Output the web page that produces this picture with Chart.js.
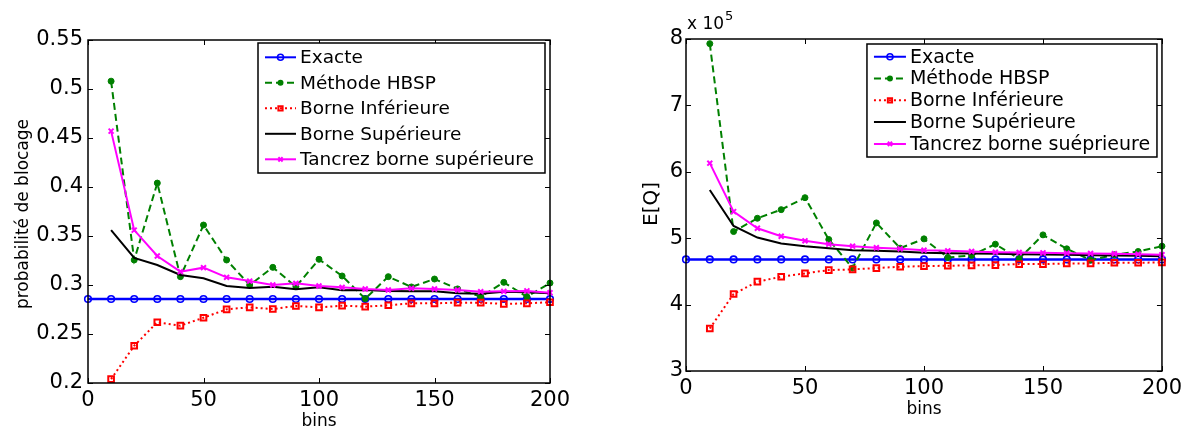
<!DOCTYPE html>
<html>
<head>
<meta charset="utf-8">
<title>Probabilité de blocage et E[Q] en fonction du nombre de bins</title>
<script src="https://cdn.jsdelivr.net/npm/chart.js@4.4.1/dist/chart.umd.min.js"></script>
<style>
  html, body { margin: 0; padding: 0; background: #ffffff; width: 1187px; height: 426px; overflow: hidden; }
  .panel { position: absolute; top: 0; height: 426px; }
  #panelBlocage { left: 0; width: 580px; }
  #panelEQ { left: 600px; width: 587px; }
</style>
</head>
<body>
<div class="panel" id="panelBlocage"><canvas id="chartBlocage"></canvas></div>
<div class="panel" id="panelEQ"><canvas id="chartEQ"></canvas></div>
<script>
// ---- data ----
const bins = [10, 20, 30, 40, 50, 60, 70, 80, 90, 100, 110, 120, 130, 140, 150, 160, 170, 180, 190, 200];
const binsExacte = [0, 10, 20, 30, 40, 50, 60, 70, 80, 90, 100, 110, 120, 130, 140, 150, 160, 170, 180, 190, 200];

const xTickValues = [0, 50, 100, 150, 200];
const yTickBlocage = [0.2, 0.25, 0.3, 0.35, 0.4, 0.45, 0.5, 0.55];
const yTickEQ = [3, 4, 5, 6, 7, 8];

const namesBlocage = ['Exacte', 'Méthode HBSP', 'Borne Inférieure', 'Borne Supérieure', 'Tancrez borne supérieure'];
const namesEQ = ['Exacte', 'Méthode HBSP', 'Borne Inférieure', 'Borne Supérieure', 'Tancrez borne suéprieure'];

// probabilité de blocage
const exacteBlocage = [0.2857, 0.2857, 0.2857, 0.2857, 0.2857, 0.2857, 0.2857, 0.2857, 0.2857, 0.2857, 0.2857,
                       0.2857, 0.2857, 0.2857, 0.2857, 0.2857, 0.2857, 0.2857, 0.2857, 0.2857, 0.2857];
const hbspBlocage = [0.508, 0.3255, 0.404, 0.3085, 0.3612, 0.3255, 0.300, 0.318, 0.2983, 0.3262,
                     0.3092, 0.286, 0.3085, 0.298, 0.3061, 0.296, 0.288, 0.3027, 0.288, 0.302];
const infBlocage = [0.204, 0.238, 0.262, 0.2585, 0.2666, 0.2752, 0.2772, 0.2755, 0.2786, 0.2772,
                    0.2789, 0.2779, 0.2793, 0.2813, 0.2813, 0.282, 0.282, 0.2806, 0.2813, 0.2824];
const supBlocage = [0.356, 0.3277, 0.3204, 0.3102, 0.3068, 0.299, 0.297, 0.2983, 0.2956, 0.2976,
                    0.2946, 0.295, 0.294, 0.2935, 0.2935, 0.2915, 0.291, 0.293, 0.2925, 0.2915];
const tancrezBlocage = [0.457, 0.356, 0.3296, 0.3136, 0.3177, 0.3078, 0.304, 0.300, 0.3017, 0.299,
                        0.2976, 0.2959, 0.2949, 0.2966, 0.2959, 0.2949, 0.2932, 0.2935, 0.294, 0.2922];

// E[Q], in units of 10^5
const EQ_EXPONENT = 5;
const exacteEQ = [4.68, 4.68, 4.68, 4.68, 4.68, 4.68, 4.68, 4.68, 4.68, 4.68, 4.68,
                  4.68, 4.68, 4.68, 4.68, 4.68, 4.68, 4.68, 4.68, 4.68, 4.68];
const hbspEQ = [7.93, 5.10, 5.30, 5.43, 5.61, 4.98, 4.55, 5.23, 4.85, 4.99,
                4.71, 4.74, 4.91, 4.69, 5.05, 4.84, 4.67, 4.75, 4.80, 4.88];
const infEQ = [3.64, 4.16, 4.345, 4.42, 4.47, 4.52, 4.53, 4.55, 4.57, 4.58,
               4.585, 4.59, 4.595, 4.61, 4.61, 4.62, 4.62, 4.63, 4.63, 4.635];
const supEQ = [5.727, 5.184, 5.01, 4.92, 4.88, 4.85, 4.82, 4.81, 4.80, 4.78,
               4.775, 4.77, 4.765, 4.76, 4.755, 4.75, 4.745, 4.74, 4.735, 4.73];
const tancrezEQ = [6.13, 5.40, 5.15, 5.03, 4.96, 4.91, 4.88, 4.857, 4.84, 4.82,
                   4.81, 4.80, 4.79, 4.785, 4.78, 4.775, 4.77, 4.765, 4.76, 4.75];

// ---- styles ----
const FONT = '"DejaVu Sans", "Liberation Sans", sans-serif';
const seriesStyles = [
  { color: '#0000ff', width: 2.5, dash: [],     marker: 'circle',   r: 3.3, mw: 1.6 },
  { color: '#008000', width: 2,   dash: [7, 4], marker: 'dot',      r: 3,   mw: 1 },
  { color: '#ff0000', width: 2,   dash: [2, 3], marker: 'rect',     r: 4,   mw: 2 },
  { color: '#000000', width: 2,   dash: [],     marker: null,       r: 0,   mw: 1 },
  { color: '#ff00ff', width: 2,   dash: [],     marker: 'crossRot', r: 3.5, mw: 2 }
];

function makeDataset(i, label, xs, ys) {
  const s = seriesStyles[i];
  return {
    label: label,
    data: xs.map((x, k) => ({ x: x, y: ys[k] })),
    borderColor: s.color,
    borderWidth: s.width,
    borderDash: s.dash,
    pointStyle: s.marker === 'dot' ? 'circle' : (s.marker || false),
    pointRadius: s.marker ? s.r : 0,
    pointHoverRadius: s.marker ? s.r : 0,
    pointBorderColor: s.color,
    pointBorderWidth: s.mw,
    pointBackgroundColor: s.marker === 'dot' ? s.color : 'rgba(0,0,0,0)',
    fill: false,
    tension: 0,
    clip: false,
    order: 10 - i
  };
}

// small marker painter for the legend samples
function paintMarker(ctx, s, x, y) {
  if (!s.marker) return;
  ctx.save();
  ctx.setLineDash([]);
  ctx.strokeStyle = s.color;
  ctx.fillStyle = s.color;
  ctx.lineWidth = s.mw;
  ctx.beginPath();
  if (s.marker === 'circle') {
    ctx.arc(x, y, s.r, 0, Math.PI * 2);
    ctx.stroke();
  } else if (s.marker === 'dot') {
    ctx.arc(x, y, s.r, 0, Math.PI * 2);
    ctx.fill();
  } else if (s.marker === 'rect') {
    const h = s.r * Math.SQRT1_2;
    ctx.rect(x - h, y - h, 2 * h, 2 * h);
    ctx.stroke();
  } else if (s.marker === 'crossRot') {
    const h = s.r * Math.SQRT1_2;
    ctx.moveTo(x - h, y - h); ctx.lineTo(x + h, y + h);
    ctx.moveTo(x + h, y - h); ctx.lineTo(x - h, y + h);
    ctx.stroke();
  }
  ctx.restore();
}

// boxed frame with inward ticks, legend box and axis titles
const matFrame = {
  id: 'matFrame',
  afterDatasetsDraw(chart, args, o) {
    const ctx = chart.ctx, ca = chart.chartArea;
    const xs = chart.scales.x, ys = chart.scales.y;
    ctx.save();
    ctx.setLineDash([]);
    ctx.strokeStyle = '#000';
    ctx.lineWidth = 1;
    ctx.beginPath();
    o.xTicks.forEach(v => {
      const px = Math.round(xs.getPixelForValue(v)) + 0.5;
      ctx.moveTo(px, ca.bottom); ctx.lineTo(px, ca.bottom - 5);
      ctx.moveTo(px, ca.top); ctx.lineTo(px, ca.top + 5);
    });
    o.yTicks.forEach(v => {
      const py = Math.round(ys.getPixelForValue(v)) + 0.5;
      ctx.moveTo(ca.left, py); ctx.lineTo(ca.left + 5, py);
      ctx.moveTo(ca.right, py); ctx.lineTo(ca.right - 5, py);
    });
    ctx.stroke();
    ctx.lineWidth = 1.5;
    ctx.strokeRect(ca.left, ca.top, ca.right - ca.left, ca.bottom - ca.top);
    ctx.restore();
  },
  afterDraw(chart, args, o) {
    const ctx = chart.ctx, ca = chart.chartArea;
    const lg = o.legend;
    ctx.save();
    // legend
    const bx = ca.right - lg.inset - lg.w, by = ca.top + lg.top;
    ctx.fillStyle = '#fff';
    ctx.fillRect(bx, by, lg.w, lg.h);
    ctx.strokeStyle = '#000';
    ctx.lineWidth = 1.5;
    ctx.strokeRect(bx, by, lg.w, lg.h);
    chart.data.datasets.forEach((ds, i) => {
      const s = seriesStyles[i];
      const y = by + lg.first + i * lg.step;
      const x0 = bx + lg.sx0, x1 = bx + lg.sx1;
      ctx.save();
      ctx.strokeStyle = s.color;
      ctx.lineWidth = Math.min(s.width, 2);
      ctx.setLineDash(s.dash);
      ctx.beginPath();
      ctx.moveTo(x0, y); ctx.lineTo(x1, y);
      ctx.stroke();
      ctx.restore();
      paintMarker(ctx, Object.assign({}, s, { r: Math.min(s.r, 3) }), (x0 + x1) / 2, y);
      ctx.fillStyle = '#000';
      ctx.font = lg.size + 'px ' + FONT;
      ctx.textAlign = 'left';
      ctx.textBaseline = 'middle';
      ctx.fillText(ds.label, bx + lg.tx, y + 1);
    });
    // x title
    ctx.fillStyle = '#000';
    ctx.font = o.xTitle.size + 'px ' + FONT;
    ctx.textAlign = 'center';
    ctx.textBaseline = 'alphabetic';
    ctx.fillText(o.xTitle.text, (ca.left + ca.right) / 2, ca.bottom + o.xTitle.dy);
    // y title
    ctx.save();
    ctx.translate(o.yTitle.x, o.yTitle.y);
    ctx.rotate(-Math.PI / 2);
    ctx.font = o.yTitle.size + 'px ' + FONT;
    ctx.textAlign = 'center';
    ctx.textBaseline = 'middle';
    ctx.fillText(o.yTitle.text, 0, 0);
    ctx.restore();
    // exponent
    if (o.exponent) {
      ctx.font = '17px ' + FONT;
      ctx.textAlign = 'left';
      ctx.textBaseline = 'alphabetic';
      const base = 'x 10';
      ctx.fillText(base, ca.left + 1, ca.top - 10);
      const w = ctx.measureText(base).width;
      ctx.font = '13px ' + FONT;
      ctx.fillText(String(o.exponent), ca.left + 2 + w, ca.top - 19);
    }
    ctx.restore();
  }
};

function makeChart(canvasId, cfg) {
  const tickFont = { family: FONT, size: 21 };
  return new Chart(document.getElementById(canvasId), {
    type: 'line',
    data: { datasets: cfg.datasets },
    plugins: [matFrame],
    options: {
      responsive: true,
      maintainAspectRatio: false,
      animation: false,
      devicePixelRatio: 1,
      layout: { padding: { top: cfg.padTop, right: cfg.padRight, left: 0, bottom: 0 } },
      plugins: {
        legend: { display: false },
        tooltip: { enabled: false },
        title: { display: false },
        matFrame: {
          xTicks: xTickValues,
          yTicks: cfg.yTicks,
          legend: cfg.legend,
          xTitle: cfg.xTitle,
          yTitle: cfg.yTitle,
          exponent: cfg.exponent || 0
        }
      },
      scales: {
        x: {
          type: 'linear',
          min: 0, max: 200,
          afterBuildTicks: s => { s.ticks = xTickValues.map(v => ({ value: v })); },
          afterFit: s => { s.height = cfg.xAxisHeight; },
          grid: { display: false, drawTicks: false },
          border: { display: false },
          ticks: { font: tickFont, color: '#000', padding: 5, maxRotation: 0, autoSkip: false,
                   callback: v => String(v) }
        },
        y: {
          type: 'linear',
          min: cfg.yTicks[0], max: cfg.yTicks[cfg.yTicks.length - 1],
          afterBuildTicks: s => { s.ticks = cfg.yTicks.map(v => ({ value: v })); },
          afterFit: s => { s.width = cfg.yAxisWidth; },
          grid: { display: false, drawTicks: false },
          border: { display: false },
          ticks: { font: tickFont, color: '#000', padding: cfg.yPad, autoSkip: false,
                   callback: v => String(Math.round(v * 100) / 100) }
        }
      }
    }
  });
}

makeChart('chartBlocage', {
  datasets: [
    makeDataset(0, namesBlocage[0], binsExacte, exacteBlocage),
    makeDataset(1, namesBlocage[1], bins, hbspBlocage),
    makeDataset(2, namesBlocage[2], bins, infBlocage),
    makeDataset(3, namesBlocage[3], bins, supBlocage),
    makeDataset(4, namesBlocage[4], bins, tancrezBlocage)
  ],
  yTicks: yTickBlocage,
  padTop: 40, padRight: 30, yAxisWidth: 88, xAxisHeight: 43, yPad: 5,
  legend: { inset: 5, top: 3, w: 287, h: 130, first: 14.3, step: 25.5, sx0: 7, sx1: 38, tx: 42, size: 18.5 },
  xTitle: { text: 'bins', size: 17, dy: 43 },
  yTitle: { text: 'probabilité de blocage', size: 17, x: 24, y: 214 }
});

makeChart('chartEQ', {
  datasets: [
    makeDataset(0, namesEQ[0], binsExacte, exacteEQ),
    makeDataset(1, namesEQ[1], bins, hbspEQ),
    makeDataset(2, namesEQ[2], bins, infEQ),
    makeDataset(3, namesEQ[3], bins, supEQ),
    makeDataset(4, namesEQ[4], bins, tancrezEQ)
  ],
  yTicks: yTickEQ,
  padTop: 39, padRight: 24, yAxisWidth: 86, xAxisHeight: 55, yPad: 3,
  legend: { inset: 5, top: 5, w: 290, h: 113, first: 12.7, step: 21.8, sx0: 7, sx1: 39, tx: 43, size: 19 },
  xTitle: { text: 'bins', size: 17, dy: 43 },
  yTitle: { text: 'E[Q]', size: 20, x: 52, y: 204 },
  exponent: EQ_EXPONENT
});
</script>
</body>
</html>
